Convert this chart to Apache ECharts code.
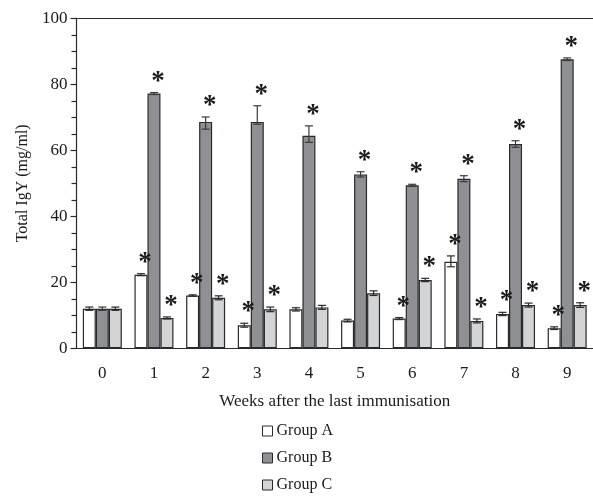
<!DOCTYPE html>
<html>
<head>
<meta charset="utf-8">
<script src="https://cdn.jsdelivr.net/npm/echarts@6/dist/echarts.min.js"></script>
<style>html,body{margin:0;padding:0;background:#fff;}#c{width:593px;height:498px;}</style>
</head>
<body>
<div id="c"></div>
<script>
const weeks = ['0','1','2','3','4','5','6','7','8','9'];
const yTicks = [0, 20, 40, 60, 80, 100];
const groupA = [12.0, 22.3, 16.0, 7.0, 11.8, 8.4, 9.0, 26.2, 10.4, 6.1];
const groupB = [12.0, 77.2, 68.6, 68.6, 64.4, 52.7, 49.4, 51.4, 61.9, 87.6];
const groupC = [12.0, 9.2, 15.3, 11.8, 12.4, 16.7, 20.7, 8.3, 13.1, 13.1];
const errUpA = [0.5, 0.3, 0.2, 0.6, 0.5, 0.4, 0.3, 1.8, 0.5, 0.4];
const errDownA = [0.5, 0.3, 0.2, 0.6, 0.5, 0.4, 0.3, 1.5, 0.5, 0.4];
const errUpB = [0.5, 0.3, 1.5, 4.9, 3.0, 0.8, 0.3, 0.9, 1.0, 0.4];
const errDownB = [0.5, 0.3, 2.2, 0.7, 2.0, 0.8, 0.3, 0.9, 1.0, 0.4];
const errUpC = [0.5, 0.3, 0.6, 0.7, 0.6, 0.7, 0.5, 0.6, 0.6, 0.7];
const errDownC = [0.5, 0.3, 0.6, 0.7, 0.6, 0.7, 0.5, 0.6, 0.6, 0.7];
const sigA = [0, 1, 1, 1, 0, 0, 1, 1, 1, 1];
const sigB = [0, 1, 1, 1, 1, 1, 1, 1, 1, 1];
const sigC = [0, 1, 1, 1, 0, 0, 1, 1, 1, 1];
const groupNames = ['Group A', 'Group B', 'Group C'];

const FONT = '"Liberation Serif", "DejaVu Serif", serif';
const TXT = '#1a1a1a';
const BORDER = '#2a2a2a';
const COLORS = ['#ffffff', '#8f9094', '#d3d4d6'];
const BAR_W = 13;

const values = [groupA, groupB, groupC];
const ups = [errUpA, errUpB, errUpC];
const downs = [errDownA, errDownB, errDownC];
const sigs = [sigA, sigB, sigC];

const errData = [];
const starData = [];
for (let g = 0; g < 3; g++) {
  for (let i = 0; i < weeks.length; i++) {
    errData.push([i, values[g][i], ups[g][i], downs[g][i], g]);
    if (sigs[g][i]) starData.push([i, values[g][i] + ups[g][i], g]);
  }
}

const chart = echarts.init(document.getElementById('c'));
chart.setOption({
  animation: false,
  backgroundColor: '#fff',
  textStyle: { fontFamily: FONT, color: TXT },
  grid: { left: 76.5, top: 18.3, width: 521, height: 330 },
  legend: {
    orient: 'vertical',
    left: 257,
    top: 418,
    icon: 'rect',
    itemWidth: 10,
    itemHeight: 10,
    itemGap: 11,
    data: groupNames,
    textStyle: { fontFamily: FONT, fontSize: 16, color: TXT, padding: [0, 0, 0, -1] },
    itemStyle: { borderColor: BORDER, borderWidth: 1 }
  },
  xAxis: [{
    type: 'category',
    data: weeks,
    position: 'bottom',
    name: 'Weeks after the last immunisation',
    nameLocation: 'middle',
    nameGap: 45,
    nameTextStyle: { fontFamily: FONT, fontSize: 17, color: TXT },
    axisLine: { lineStyle: { color: BORDER, width: 1.2 } },
    axisTick: { alignWithLabel: true, length: 6, lineStyle: { color: BORDER, width: 1.2 } },
    axisLabel: { fontFamily: FONT, fontSize: 17, color: TXT, margin: 17 },
    splitLine: { show: false }
  }, {
    type: 'category',
    data: weeks,
    position: 'top',
    axisLine: { lineStyle: { color: BORDER, width: 1.2 } },
    axisTick: { show: false },
    axisLabel: { show: false },
    splitLine: { show: false }
  }],
  yAxis: {
    type: 'value',
    min: 0,
    max: 100,
    interval: 20,
    name: 'Total IgY (mg/ml)',
    nameLocation: 'middle',
    nameGap: 42,
    nameTextStyle: { fontFamily: FONT, fontSize: 16, color: TXT },
    axisLine: { show: true, lineStyle: { color: BORDER, width: 1.2 } },
    axisTick: { show: true, length: 6, lineStyle: { color: BORDER, width: 1.2 } },
    minorTick: { show: true, splitNumber: 4, length: 5, lineStyle: { color: BORDER, width: 1.2 } },
    axisLabel: { fontFamily: FONT, fontSize: 17, color: TXT, margin: 9,
      formatter: v => yTicks.indexOf(v) >= 0 ? String(v) : '' },
    splitLine: { show: false }
  },
  series: [
    ...groupNames.map((n, g) => ({
      name: n,
      type: 'bar',
      data: values[g],
      barWidth: BAR_W,
      barGap: '0%',
      itemStyle: { color: COLORS[g], borderColor: BORDER, borderWidth: 1.2 },
      z: 2
    })),
    {
      type: 'custom',
      name: 'err',
      data: errData,
      z: 5,
      encode: { x: 0, y: 1 },
      renderItem: function (params, api) {
        const i = api.value(0), v = api.value(1), up = api.value(2), dn = api.value(3), g = api.value(4);
        const c = api.coord([i, v]);
        const x = c[0] + (g - 1) * BAR_W;
        const yt = api.coord([i, v + up])[1];
        const yb = api.coord([i, v - dn])[1];
        const hw = 4;
        const st = { stroke: g === 1 ? '#3a3a3a' : '#2a2a2a', lineWidth: 1.2 };
        return { type: 'group', children: [
          { type: 'line', shape: { x1: x, y1: yt, x2: x, y2: yb }, style: st },
          { type: 'line', shape: { x1: x - hw, y1: yt, x2: x + hw, y2: yt }, style: st },
          { type: 'line', shape: { x1: x - hw, y1: yb, x2: x + hw, y2: yb }, style: st }
        ]};
      }
    },
    {
      type: 'custom',
      name: 'sig',
      data: starData,
      z: 6,
      encode: { x: 0, y: 1 },
      renderItem: function (params, api) {
        const i = api.value(0), v = api.value(1), g = api.value(2);
        const c = api.coord([i, v]);
        const x = c[0] + (g - 1) * BAR_W + 4;
        return {
          type: 'text',
          style: {
            text: '*', x: x, y: c[1] - 11,
            font: 'bold 27px ' + FONT,
            fill: '#1a1a1a',
            align: 'center', verticalAlign: 'middle'
          }
        };
      }
    }
  ]
});
</script>
</body>
</html>
